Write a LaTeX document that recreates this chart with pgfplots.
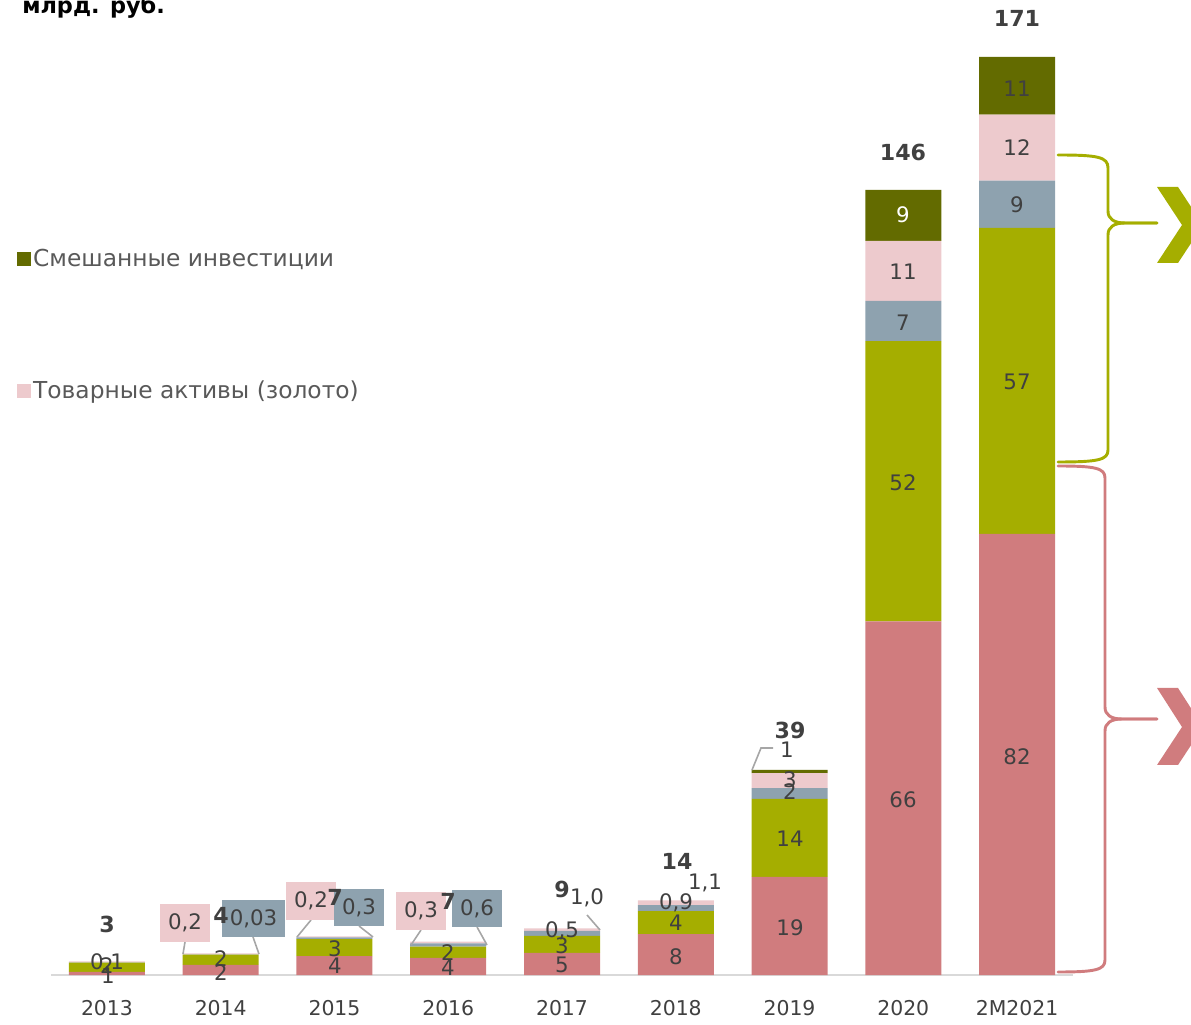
\documentclass[border=0pt]{standalone}
\usepackage{pgfplots}
\usepackage{pgfplotstable}
\pgfplotsset{compat=1.18}
\usepackage{fontspec}
\setmainfont{DejaVu Sans}

\definecolor{redc}{HTML}{D07C7E}
\definecolor{greenc}{HTML}{A5AE00}
\definecolor{grayc}{HTML}{8EA2AF}
\definecolor{pinkc}{HTML}{EDCACD}
\definecolor{olivec}{HTML}{636B00}
\definecolor{txt}{HTML}{404040}
\definecolor{legtxt}{HTML}{595959}
\definecolor{axisc}{HTML}{D9D9D9}
\definecolor{leader}{HTML}{A6A6A6}

% x: 0 = 2013 ... 8 = 2M2021, values in bn rub
\pgfplotstableread{
x red green gray pink olive
0 0.6 1.7 0.05 0.2 0
1 1.9 1.9 0.03 0.2 0
2 3.5 3.2 0.3 0.2 0
3 3.2 2.1 0.6 0.3 0
4 4.1 3.2 0.9 0.5 0
5 7.6 4.3 1.1 0.9 0
6 18.3 14.5 2.0 2.8 0.6
7 65.9 52.2 7.5 11.2 9.5
8 82.2 57.0 8.8 12.3 10.8
}\funds

\begin{document}
\begin{tikzpicture}
% page = 1191x1024 px of the reference, 0.75pt each
\useasboundingbox (0pt,0pt) rectangle (893.25pt,768pt);

\begin{axis}[
  at={(38.25pt,36.75pt)}, anchor=south west,
  scale only axis, width=766.5pt, height=692.3pt,
  ybar stacked, bar width=57pt,
  xmin=-0.492, xmax=8.492, ymin=0, ymax=172,
  axis x line=bottom, axis y line=none,
  x axis line style={draw=axisc, line width=1.5pt, -},
  xtick={0,...,8}, major tick length=0pt,
  xticklabels={2013,2014,2015,2016,2017,2018,2019,2020,2M2021},
  xticklabel style={font=\fontsize{15.3}{18}\selectfont, text=txt, yshift=-15.5pt},
  reverse legend,
  legend cell align=left,
  legend style={at={(-0.034,0.789)}, anchor=north west, draw=none, fill=none,
    inner sep=0pt, row sep=80pt,
    font=\fontsize{17.5}{21}\selectfont, text=legtxt},
  legend image code/.code={\fill[#1] (0pt,-5.25pt) rectangle (10.5pt,5.25pt);},
  every legend entry/.append style={xshift=2pt},
]
\addplot[fill=redc, draw=none] table[x=x,y=red] {\funds};
\addplot[fill=greenc, draw=none] table[x=x,y=green] {\funds};
\addplot[fill=grayc, draw=none] table[x=x,y=gray] {\funds};
\addplot[fill=pinkc, draw=none] table[x=x,y=pink] {\funds};
\addlegendentry{Товарные активы (золото)}
\addplot[fill=olivec, draw=none] table[x=x,y=olive] {\funds};
\addlegendentry{Смешанные инвестиции}
\end{axis}

\begin{scope}[x=0.75pt,y=-0.75pt,yshift=768pt]
\node[anchor=base west,inner sep=0pt,font=\fontsize{16.8}{20}\selectfont\bfseries] at (22,14) {млрд. руб.};

% leader lines
\begin{scope}[leader, line width=1.2pt]
\draw (185,942) -- (183,954);
\draw (253,937) -- (259,954);
\draw (311,920) -- (297,937);
\draw (359,926) -- (373,937);
\draw (421,930) -- (411,945);
\draw (477,927) -- (487,945);
\draw (587,915) -- (600,930);
\draw (773,748) -- (761,748) -- (752,770);
\end{scope}

% labels in boxes
\begin{scope}[every node/.style={inner sep=0pt, text=txt, font=\fontsize{16}{18}\selectfont}]
\node[fill=pinkc, minimum width=37.5pt, minimum height=28.5pt] at (185,923) {0,2};
\node[fill=grayc, minimum width=47pt, minimum height=28pt] at (253.5,918.5) {0,03};
\node[fill=pinkc, minimum width=37.5pt, minimum height=28.5pt] at (311,901) {0,2};
\node[fill=grayc, minimum width=37.5pt, minimum height=28pt] at (359,907.5) {0,3};
\node[fill=pinkc, minimum width=37.5pt, minimum height=28.5pt] at (421,911) {0,3};
\node[fill=grayc, minimum width=37.5pt, minimum height=28pt] at (477,908.5) {0,6};

% in-bar labels
\node at (107,963) {0,1};
\node at (107,966) {2};
\node at (108,976) {1};
\node at (221,959) {2};
\node at (221,973) {2};
\node at (335,949) {3};
\node at (335,966) {4};
\node at (448,953) {2};
\node at (448,968) {4};
\node at (562,931) {0,5};
\node at (562,946) {3};
\node at (562,965) {5};
\node at (587,898) {1,0};
\node at (676,903) {0,9};
\node at (676,923) {4};
\node at (676,957) {8};
\node at (705,883) {1,1};
\node at (787,750) {1};
\node at (790,780) {3};
\node at (790,792) {2};
\node at (790,839) {14};
\node at (790,928) {19};
\node[text=white] at (903,215) {9};
\node at (903,272) {11};
\node at (903,323) {7};
\node at (903,483) {52};
\node at (903,800) {66};
\node at (1017,89) {11};
\node at (1017,148) {12};
\node at (1017,205) {9};
\node at (1017,382) {57};
\node at (1017,757) {82};
\end{scope}

% totals
\begin{scope}[every node/.style={inner sep=0pt, text=txt, font=\fontsize{16.6}{19}\selectfont\bfseries}]
\node at (107,924) {3};
\node at (221,915) {4};
\node at (335,897) {7};
\node at (448,901) {7};
\node at (562,889) {9};
\node at (677,861) {14};
\node at (790,730) {39};
\node at (903,152) {146};
\node at (1017,18) {171};
\end{scope}

% braces
\begin{scope}[line width=2.2pt, line cap=round]
\draw[greenc] (1058,155) .. controls (1098,155) and (1108,157) .. (1108,168) -- (1108,211)
  .. controls (1108,219) and (1114,223) .. (1125,223) -- (1157,223);
\draw[greenc] (1157,223) -- (1125,223) .. controls (1114,223) and (1108,227) .. (1108,235)
  -- (1108,450) .. controls (1108,460) and (1098,462) .. (1058,462);
\draw[redc] (1058,466) .. controls (1095,466) and (1105,468) .. (1105,478) -- (1105,707)
  .. controls (1105,715) and (1111,719) .. (1122,719) -- (1157,719);
\draw[redc] (1157,719) -- (1122,719) .. controls (1111,719) and (1105,723) .. (1105,731)
  -- (1105,960) .. controls (1105,970) and (1095,972) .. (1058,972);
\end{scope}
\fill[greenc] (1157,187) -- (1178,187) -- (1203,225) -- (1178,263) -- (1157,263) -- (1182,225) -- cycle;
\fill[redc] (1157,688) -- (1178,688) -- (1203,727) -- (1178,765) -- (1157,765) -- (1182,727) -- cycle;
\end{scope}
\end{tikzpicture}
\end{document}
